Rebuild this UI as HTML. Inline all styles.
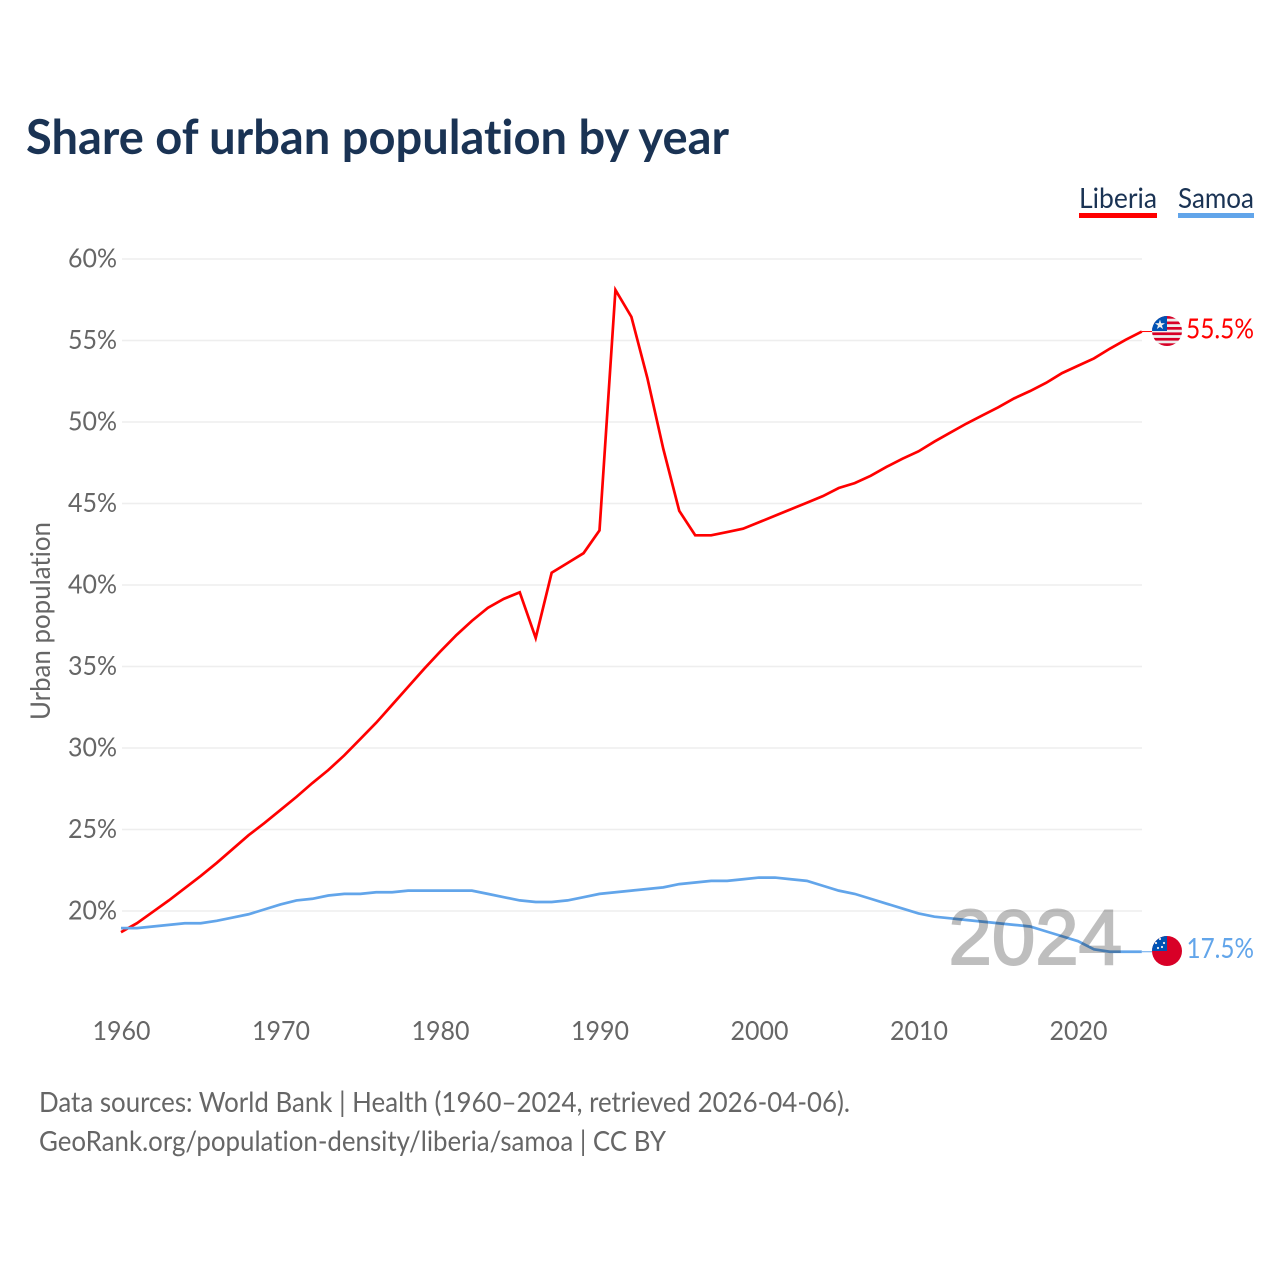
<!DOCTYPE html>
<html lang="en">
<head>
<meta charset="utf-8">
<title>Share of urban population by year</title>
<style>
html,body{margin:0;padding:0;background:#fff;}
svg{display:block;}
text{font-family:"Lato","Carlito","Liberation Sans",sans-serif;font-variant-ligatures:none;}
.tick{font-size:26px;fill:#666;}
.foot{font-size:28px;fill:#666;}
</style>
</head>
<body>
<svg id="chart" width="1280" height="1280" viewBox="0 0 1280 1280" xmlns="http://www.w3.org/2000/svg">
  <rect x="0" y="0" width="1280" height="1280" fill="#fff"/>
  <text x="26" y="154" font-size="48" font-weight="700" fill="#1a3354" textLength="703" lengthAdjust="spacingAndGlyphs">Share of urban population by year</text>

  <g>
    <text x="1079" y="208" font-size="28" fill="#1a3354" textLength="78" lengthAdjust="spacingAndGlyphs">Liberia</text>
    <rect x="1079" y="213" width="78" height="5" fill="#ff0000"/>
  </g>
  <g>
    <text x="1178" y="208" font-size="28" fill="#1a3354" textLength="76" lengthAdjust="spacingAndGlyphs">Samoa</text>
    <rect x="1178" y="213" width="76" height="5" fill="#62a5ea"/>
  </g>

  <g id="grid"></g>
  <g id="yticks"></g>
  <g id="xticks"></g>
  <text transform="translate(50,621) rotate(-90)" text-anchor="middle" font-size="27" fill="#666" textLength="198" lengthAdjust="spacingAndGlyphs">Urban population</text>

  <g id="series"></g>

  <text id="year-watermark" x="1122" y="964" text-anchor="end" font-size="78" fill="#000" stroke="#000" stroke-width="2" opacity="0.25" style="font-family:'Liberation Sans',sans-serif">2024</text>

  <defs>
    <clipPath id="flag-clip-lr"><circle cx="1167" cy="331" r="15"/></clipPath>
    <clipPath id="flag-clip-ws"><circle cx="1167" cy="951" r="15"/></clipPath>
  </defs>
  <g clip-path="url(#flag-clip-lr)">
    <rect x="1152" y="316" width="30" height="30" fill="#eee"/>
    <g fill="#d80027">
      <rect x="1152" y="316" width="30" height="2.7"/>
      <rect x="1152" y="321.5" width="30" height="2.7"/>
      <rect x="1152" y="327" width="30" height="2.7"/>
      <rect x="1152" y="332.4" width="30" height="2.7"/>
      <rect x="1152" y="337.9" width="30" height="2.7"/>
      <rect x="1152" y="343.3" width="30" height="2.7"/>
    </g>
    <rect x="1152" y="316" width="15" height="15" fill="#0052b4"/>
    <text x="1160" y="329" text-anchor="middle" font-size="13" fill="#eee" style="font-family:'DejaVu Sans',sans-serif">★</text>
  </g>
  <g clip-path="url(#flag-clip-ws)">
    <rect x="1152" y="936" width="30" height="30" fill="#d80027"/>
    <rect x="1152" y="936" width="15" height="15" fill="#0052b4"/>
    <g fill="#eee">
      <circle cx="1160" cy="939" r="1.1"/><circle cx="1164" cy="943" r="1.1"/><circle cx="1156" cy="943" r="1.1"/><circle cx="1162" cy="947" r="1.1"/><circle cx="1158" cy="948" r="1.1"/>
    </g>
  </g>

  <text x="1186" y="338.5" font-size="28" fill="#ff0000" textLength="68" lengthAdjust="spacingAndGlyphs">55.5%</text>
  <text x="1186.5" y="958" font-size="28" fill="#62a5ea" textLength="67.5" lengthAdjust="spacingAndGlyphs">17.5%</text>

  <text class="foot" x="39" y="1112" textLength="811" lengthAdjust="spacingAndGlyphs">Data sources: World Bank | Health (1960–2024, retrieved 2026-04-06).</text>
  <text class="foot" x="39" y="1151" textLength="627" lengthAdjust="spacingAndGlyphs">GeoRank.org/population-density/liberia/samoa | CC BY</text>
</svg>
<script>
const startYear = 1960;
const liberia = [18.7,19.25,19.95,20.65,21.4,22.15,22.95,23.8,24.65,25.4,26.2,27.0,27.85,28.65,29.55,30.55,31.55,32.65,33.75,34.85,35.9,36.9,37.8,38.6,39.15,39.55,36.75,40.75,41.35,41.95,43.35,58.1,56.45,52.7,48.35,44.55,43.05,43.05,43.25,43.45,43.85,44.25,44.65,45.05,45.45,45.95,46.25,46.7,47.25,47.75,48.2,48.8,49.35,49.9,50.4,50.9,51.45,51.9,52.4,53.0,53.45,53.9,54.5,55.05,55.55];
const samoa = [18.95,18.95,19.05,19.15,19.25,19.25,19.4,19.6,19.8,20.1,20.4,20.65,20.75,20.95,21.05,21.05,21.15,21.15,21.25,21.25,21.25,21.25,21.25,21.05,20.85,20.65,20.55,20.55,20.65,20.85,21.05,21.15,21.25,21.35,21.45,21.65,21.75,21.85,21.85,21.95,22.05,22.05,21.95,21.85,21.55,21.25,21.05,20.75,20.45,20.15,19.85,19.65,19.55,19.45,19.35,19.25,19.15,19.05,18.75,18.45,18.15,17.65,17.5,17.5,17.5];
const yTickValues = [20,25,30,35,40,45,50,55,60];
const xTickValues = [1960,1970,1980,1990,2000,2010,2020];

const NS = 'http://www.w3.org/2000/svg';
function xScale(year){ return 121 + (year - 1960) * 15.95; }
function yScale(v){ return 911 - (v - 20) * (911 - 259) / 40; }
function mk(tag, parent){ const el = document.createElementNS(NS, tag); parent.appendChild(el); return el; }

const gridG = document.getElementById('grid');
const yG = document.getElementById('yticks');
const xG = document.getElementById('xticks');
const seriesG = document.getElementById('series');

yTickValues.forEach(function(v){
  const line = mk('line', gridG);
  
  
  line.setAttribute('x1', 122);
  line.setAttribute('x2', 1142);
  line.setAttribute('y1', yScale(v));
  line.setAttribute('y2', yScale(v));
  line.setAttribute('stroke', '#eeeeee');
  line.setAttribute('stroke-width', '1.5');
  const t = mk('text', yG);
  
  
  t.setAttribute('class', 'tick');
  t.setAttribute('x', 117);
  t.setAttribute('y', yScale(v) + 8.3);
  t.setAttribute('text-anchor', 'end');
  t.setAttribute('textLength', '49');
  t.setAttribute('lengthAdjust', 'spacingAndGlyphs');
  t.textContent = v + '%';
});

xTickValues.forEach(function(y){
  const t = mk('text', xG);
  
  
  t.setAttribute('class', 'tick');
  t.setAttribute('x', xScale(y) + 0.5);
  t.setAttribute('y', 1040);
  t.setAttribute('text-anchor', 'middle');
  t.setAttribute('textLength', '58');
  t.setAttribute('lengthAdjust', 'spacingAndGlyphs');
  t.textContent = y;
});

function drawSeries(values, color, name){
  const d = values.map(function(v, i){
    return (i ? 'L' : 'M') + xScale(startYear + i).toFixed(2) + ' ' + yScale(v).toFixed(2);
  }).join(' ');
  const path = mk('path', seriesG);
  
  
  path.setAttribute('d', d);
  path.setAttribute('fill', 'none');
  path.setAttribute('stroke', color);
  path.setAttribute('stroke-width', '2.7');
  path.setAttribute('stroke-linejoin', 'miter');
  const lastY = yScale(values[values.length - 1]);
  const lead = mk('line', seriesG);
  
  
  lead.setAttribute('x1', xScale(startYear + values.length - 1));
  lead.setAttribute('x2', 1152);
  lead.setAttribute('y1', lastY);
  lead.setAttribute('y2', lastY);
  lead.setAttribute('stroke', color);
  lead.setAttribute('stroke-width', '1');
}
drawSeries(liberia, '#ff0000', 'liberia');
drawSeries(samoa, '#62a5ea', 'samoa');
</script>
</body>
</html>
